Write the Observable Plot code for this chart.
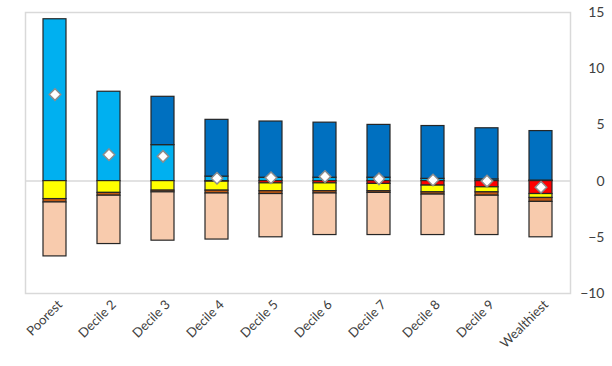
<!DOCTYPE html>
<html>
<head>
<meta charset="utf-8">
<script src="https://cdn.jsdelivr.net/npm/d3@7"></script>
<script src="https://cdn.jsdelivr.net/npm/@observablehq/plot@0.6"></script>
<style>
  html, body { margin: 0; padding: 0; background: #fff; }
</style>
</head>
<body>
<div id="chart"></div>
<script>
const categories = ["Poorest", "Decile 2", "Decile 3", "Decile 4", "Decile 5", "Decile 6", "Decile 7", "Decile 8", "Decile 9", "Wealthiest"];
const seriesNames = ["Component 1", "Component 2", "Component 3", "Component 4", "Component 5", "Component 6"];
const seriesColors = ["#00B0F0", "#0070C0", "#FF0000", "#FFFF00", "#C55A11", "#F8CBAD"];
// positive components
const component1 = [14.4, 7.95, 3.2, 0.4, 0.3, 0.3, 0.3, 0.2, 0.15, 0.05];
const component2 = [0, 0, 4.3, 5.05, 5.0, 4.9, 4.7, 4.7, 4.55, 4.4];
// negative components
const component3 = [0, 0, 0, -0.05, -0.2, -0.2, -0.25, -0.4, -0.55, -1.15];
const component4 = [-1.6, -1.05, -0.85, -0.8, -0.7, -0.7, -0.65, -0.6, -0.45, -0.35];
const component5 = [-0.3, -0.25, -0.15, -0.25, -0.25, -0.2, -0.15, -0.2, -0.3, -0.35];
const component6 = [-4.8, -4.3, -4.3, -4.1, -3.85, -3.7, -3.75, -3.6, -3.5, -3.15];
// net effect (diamonds)
const netValues = [7.7, 2.35, 2.2, 0.25, 0.3, 0.4, 0.2, 0.1, 0.0, -0.55];
const yTicks = [-10, -5, 0, 5, 10, 15];

const seriesValues = [component1, component2, component3, component4, component5, component6];
const rows = categories.flatMap((cat, i) =>
  seriesNames.map((s, j) => ({category: cat, series: s, value: seriesValues[j][i]}))
).filter(d => d.value !== 0);
const net = categories.map((cat, i) => ({category: cat, value: netValues[i]}));

const chart = Plot.plot({
  width: 612,
  height: 366,
  marginLeft: 25,
  marginRight: 42,
  marginTop: 12,
  marginBottom: 73,
  style: {fontFamily: "Lato, 'Liberation Sans', sans-serif", fontSize: "13px", color: "#404040", background: "#fff"},
  x: {domain: categories, paddingInner: 0.58, paddingOuter: 0.29, label: null},
  y: {domain: [-10, 15], label: null},
  color: {domain: seriesNames, range: seriesColors},
  marks: [
    Plot.frame({stroke: "#d9d9d9", strokeWidth: 1.5}),
    Plot.ruleY([0], {stroke: "#d9d9d9", strokeWidth: 1.5}),
    Plot.barY(rows, {x: "category", y: "value", fill: "series", stroke: "#262626", strokeWidth: 1.2, order: null}),
    Plot.dot(net, {x: "category", y: "value", symbol: "diamond2", r: 5.2, fill: "#fff", stroke: "#8c8c8c", strokeWidth: 1.5}),
    Plot.axisY({anchor: "right", ticks: yTicks, tickSize: 0, tickPadding: 3, textAnchor: "end", dx: 31, fontSize: 14}),
    Plot.axisX({anchor: "bottom", tickSize: 0, tickPadding: 9, tickRotate: -45, dx: 5, fontSize: 13})
  ]
});
document.getElementById("chart").appendChild(chart);
</script>
</body>
</html>
